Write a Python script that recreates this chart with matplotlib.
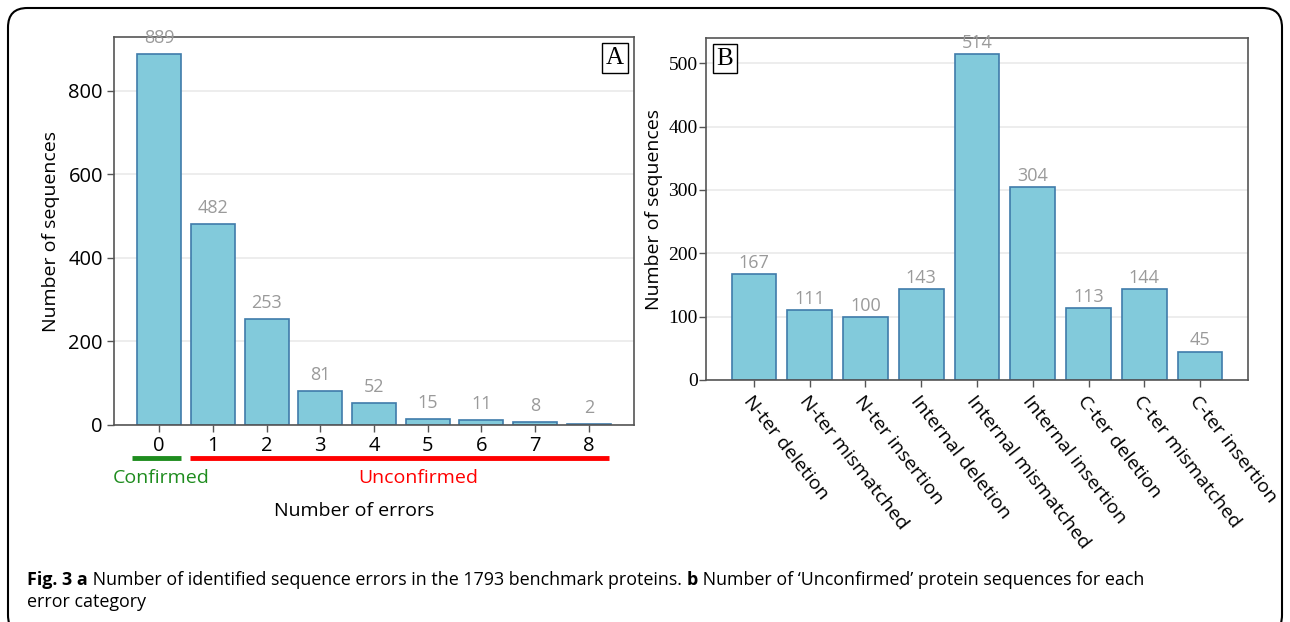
import matplotlib
matplotlib.use("Agg")
import matplotlib.pyplot as plt
from matplotlib.patches import FancyBboxPatch
from matplotlib.transforms import blended_transform_factory

plt.rcParams['font.family'] = ['Open Sans', 'DejaVu Sans']

# ---------- data ----------
n_errors = [0, 1, 2, 3, 4, 5, 6, 7, 8]
seq_counts = [889, 482, 253, 81, 52, 15, 11, 8, 2]

categories = ['N-ter deletion', 'N-ter mismatched', 'N-ter insertion',
              'Internal deletion', 'Internal mismatched', 'Internal insertion',
              'C-ter deletion', 'C-ter mismatched', 'C-ter insertion']
cat_counts = [167, 111, 100, 143, 514, 304, 113, 144, 45]

caption_parts = [
    ('Fig. 3 a', 'bold'),
    (' Number of identified sequence errors in the 1793 benchmark proteins. ', 'normal'),
    ('b', 'bold'),
    (' Number of \u2018Unconfirmed\u2019 protein sequences for each', 'normal'),
]
caption_line2 = 'error category'

BAR_FACE = '#82CADB'
BAR_EDGE = '#3F7BAA'
LABEL_GREY = '#9A9A9A'
SPINE_GREY = '#555555'
GRID_GREY = '#EAEAEA'

W, H = 1290, 622
fig = plt.figure(figsize=(W / 100, H / 100), dpi=100)


def px_axes(left, top, right, bottom):
    return fig.add_axes([left / W, 1 - bottom / H, (right - left) / W, (bottom - top) / H])


def style_axes(ax):
    for s in ax.spines.values():
        s.set_color(SPINE_GREY)
        s.set_linewidth(1.2)
    ax.set_axisbelow(True)
    ax.grid(axis='y', color=GRID_GREY, linewidth=1.2)
    ax.tick_params(color=SPINE_GREY, length=5, width=1)


# ---------- panel A ----------
axA = px_axes(114, 37, 634, 425)
style_axes(axA)
axA.bar(n_errors, seq_counts, width=0.82, color=BAR_FACE, edgecolor=BAR_EDGE, linewidth=1.2)
for x, v in zip(n_errors, seq_counts):
    axA.annotate(str(v), (x, v), xytext=(0, 5), textcoords='offset points',
                 ha='center', va='bottom', color=LABEL_GREY, fontsize=13)
axA.set_xlim(-0.84, 8.84)
axA.set_ylim(0, 929)
axA.set_yticks([0, 200, 400, 600, 800])
axA.set_xticks(n_errors)
axA.tick_params(labelsize=14.5, pad=3)
axA.set_ylabel('Number of sequences', fontsize=14, labelpad=6)
axA.text(0.963, 0.946, 'A', transform=axA.transAxes, ha='center', va='center',
         family='Liberation Serif', fontsize=18,
         bbox=dict(boxstyle='square,pad=0.15', fc='white', ec='black', lw=1))

# confirmed / unconfirmed brackets under the x axis
tr = blended_transform_factory(axA.transData, fig.transFigure)
yl = 1 - 458 / H
axA.plot([-0.5, 0.4], [yl, yl], transform=tr, color='#1E8C1E', lw=3.5, clip_on=False,
         solid_capstyle='butt')
axA.plot([0.58, 8.38], [yl, yl], transform=tr, color='#FF0000', lw=3.5, clip_on=False,
         solid_capstyle='butt')
axA.text(0.03, 1 - 478 / H, 'Confirmed', transform=tr, ha='center', va='center',
         color='#1E8C1E', fontsize=14)
axA.text(4.83, 1 - 478 / H, 'Unconfirmed', transform=tr, ha='center', va='center',
         color='#FF0000', fontsize=14)
fig.text(354 / W, 1 - 511 / H, 'Number of errors', ha='center', va='center', fontsize=14)

# ---------- panel B ----------
axB = px_axes(706, 38, 1248, 380)
style_axes(axB)
xb = list(range(len(categories)))
axB.bar(xb, cat_counts, width=0.8, color=BAR_FACE, edgecolor=BAR_EDGE, linewidth=1.2)
for x, v in zip(xb, cat_counts):
    axB.annotate(str(v), (x, v), xytext=(0, 1.5), textcoords='offset points',
                 ha='center', va='bottom', color=LABEL_GREY, fontsize=13)
axB.set_xlim(-0.86, 8.86)
axB.set_ylim(0, 540)
axB.set_yticks([0, 100, 200, 300, 400, 500])
axB.set_xticks(xb)
axB.set_xticklabels(categories, rotation=-52, ha='left', va='top',
                    rotation_mode='anchor', fontsize=14)
for lbl in axB.get_yticklabels():
    lbl.set_family('Liberation Serif')
    lbl.set_fontsize(14)
axB.tick_params(axis='y', pad=1)
axB.tick_params(axis='x', pad=4)
axB.set_ylabel('Number of sequences', fontsize=14, labelpad=4)
axB.text(0.035, 0.94, 'B', transform=axB.transAxes, ha='center', va='center',
         family='Liberation Serif', fontsize=18,
         bbox=dict(boxstyle='square,pad=0.15', fc='white', ec='black', lw=1))

# ---------- frame and caption ----------
frame = FancyBboxPatch((8 / W, -0.02), (W - 16) / W, 1 - 8 / H + 0.02,
                       boxstyle='round,pad=0,rounding_size=0.015',
                       transform=fig.transFigure, fill=False, ec='black', lw=1.5,
                       mutation_aspect=W / H)
fig.patches.append(frame)

# caption with bold panel letters, pieces laid out one after another
renderer = fig.canvas.get_renderer()
x_px = 27
for txt, wt in caption_parts:
    t = fig.text(x_px / W, 1 - 585 / H, txt, fontweight=wt, fontsize=12.9, va='baseline')
    x_px = t.get_window_extent(renderer).x1
fig.text(27 / W, 1 - 607 / H, caption_line2, fontsize=12.9, va='baseline')

fig.savefig('out.png', dpi=100)
